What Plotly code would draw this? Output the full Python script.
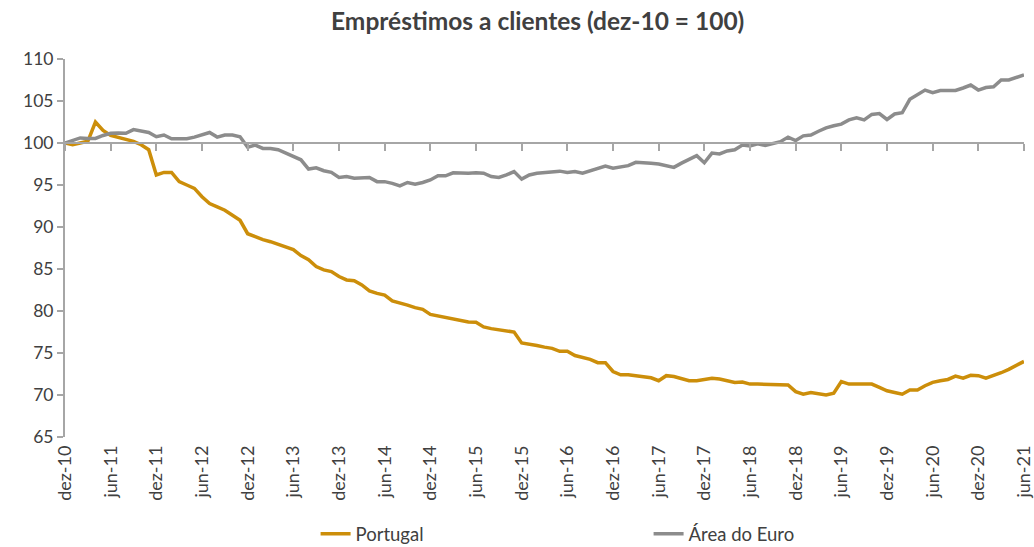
import plotly.graph_objects as go

month_abbr = ["jan", "fev", "mar", "abr", "mai", "jun", "jul", "ago", "set", "out", "nov", "dez"]
# monthly labels dez-10 .. jun-21
months = []
for k in range(127):
    mi = (11 + k) % 12
    yr = 10 + (11 + k) // 12
    months.append(f"{month_abbr[mi]}-{yr:02d}")

portugal = [
    100.0, 99.8, 100.0, 100.2, 102.5, 101.5, 100.9, 100.7, 100.4, 100.2,
    99.8, 99.2, 96.2, 96.5, 96.5, 95.4, 95.0, 94.6, 93.6, 92.8,
    92.4, 92.0, 91.4, 90.8, 89.2, 88.8, 88.5, 88.25, 87.9, 87.6,
    87.3, 86.6, 86.1, 85.3, 84.9, 84.7, 84.1, 83.7, 83.6, 83.1,
    82.4, 82.1, 81.9, 81.2, 81.0, 80.7, 80.4, 80.2, 79.6, 79.4,
    79.25, 79.1, 78.8, 78.7, 78.65, 78.1, 77.9, 77.8, 77.6, 77.5,
    76.2, 76.1, 75.9, 75.7, 75.55, 75.2, 75.2, 74.7, 74.5, 74.25,
    73.85, 73.85, 72.8, 72.4, 72.4, 72.3, 72.15, 72.05, 71.7, 72.3,
    72.2, 71.95, 71.7, 71.7, 71.8, 72.0, 71.9, 71.7, 71.5, 71.55,
    71.3, 71.3, 71.3, 71.25, 71.2, 71.2, 70.4, 70.1, 70.3, 70.15,
    70.0, 70.2, 71.6, 71.3, 71.3, 71.2, 71.3, 70.9, 70.5, 70.3,
    70.1, 70.6, 70.6, 71.1, 71.5, 71.7, 71.85, 72.25, 72.0, 72.35,
    72.3, 72.0, 72.3, 72.65, 73.05, 73.5, 74.0,
]

area_euro = [
    100.0, 100.3, 100.6, 100.55, 100.55, 100.9, 101.15, 101.2, 101.15, 101.6,
    101.4, 101.25, 100.75, 100.95, 100.5, 100.45, 100.5, 100.7, 101.0, 101.25,
    100.7, 100.95, 100.95, 100.75, 99.5, 99.75, 99.35, 99.35, 99.2, 98.8,
    98.5, 98.0, 96.9, 97.05, 96.7, 96.5, 95.9, 96.0, 95.8, 95.85,
    95.9, 95.4, 95.4, 95.2, 94.9, 95.3, 95.1, 95.3, 95.6, 96.1,
    96.1, 96.45, 96.4, 96.4, 96.45, 96.4, 96.0, 95.9, 96.2, 96.6,
    95.7, 96.2, 96.4, 96.5, 96.65, 96.65, 96.5, 96.6, 96.4, 96.7,
    97.0, 97.25, 97.0, 97.2, 97.3, 97.7, 97.7, 97.6, 97.5, 97.25,
    97.1, 97.6, 98.1, 98.5, 97.65, 98.8, 98.7, 99.05, 99.2, 99.75,
    99.65, 99.9, 99.7, 99.9, 100.15, 100.7, 100.3, 100.85, 100.95, 101.4,
    101.8, 102.05, 102.25, 102.75, 103.0, 102.75, 103.4, 103.5, 102.8, 103.45,
    103.6, 105.2, 105.8, 106.3, 106.0, 106.25, 106.25, 106.25, 106.55, 106.9,
    106.3, 106.6, 106.7, 107.5, 107.5, 107.8, 108.1,
]

tick_idx = list(range(0, 127, 6))
tick_labels = [months[i] for i in tick_idx]

x = list(range(len(months)))

FONT = "Lato"
TXT = "#404040"
AX = "#A6A6A6"

fig = go.Figure()
fig.add_trace(go.Scatter(x=x, y=portugal, mode="lines", name="Portugal",
                         line=dict(color="#CC8E0A", width=3.5),
                         customdata=months, hovertemplate="%{customdata}: %{y}<extra>Portugal</extra>"))
fig.add_trace(go.Scatter(x=x, y=area_euro, mode="lines", name="Área do Euro",
                         line=dict(color="#8C8C8C", width=3.5),
                         customdata=months, hovertemplate="%{customdata}: %{y}<extra>Área do Euro</extra>"))
# invisible trace to hold the bottom label axis
fig.add_trace(go.Scatter(x=[0, 126], y=[None, None], xaxis="x2", yaxis="y",
                         showlegend=False, hoverinfo="skip", mode="lines"))

y_min, y_max, y_cross = 65, 110, 100

fig.update_layout(
    width=1034, height=547,
    paper_bgcolor="white", plot_bgcolor="white",
    margin=dict(l=65, r=10, t=59, b=110, autoexpand=False),
    font=dict(family=FONT, color=TXT, size=17),
    title=dict(text="<b>Empréstimos a clientes (dez-10 = 100)</b>",
               x=0.52, xanchor="center", y=0.96, yanchor="middle",
               font=dict(family=FONT, size=24.5, color=TXT)),
    xaxis=dict(range=[0, 126], tickvals=tick_idx, ticktext=tick_labels,
               showticklabels=False, showgrid=False, zeroline=False,
               showline=True, linecolor=AX, linewidth=2,
               ticks="outside", ticklen=7, tickwidth=2, tickcolor=AX,
               anchor="free", position=(y_cross - y_min) / (y_max - y_min),
               automargin=False),
    xaxis2=dict(range=[0, 126], tickvals=tick_idx, ticktext=tick_labels,
                overlaying="x", anchor="y", side="bottom",
                showgrid=False, zeroline=False, showline=False, ticks="",
                ticklabelstandoff=4, automargin=False,
                tickangle=-90, tickfont=dict(family=FONT, size=18, color=TXT)),
    yaxis=dict(range=[y_min, y_max], dtick=5, showgrid=False, zeroline=False,
               showline=True, linecolor=AX, linewidth=2, automargin=False,
               ticks="outside", ticklen=6, tickwidth=1.5, tickcolor=AX,
               tickfont=dict(family=FONT, size=17.5, color=TXT)),
    legend=dict(orientation="h", x=0.2613, xanchor="left", y=-0.257, yanchor="middle",
                entrywidth=288, entrywidthmode="pixels",
                font=dict(family=FONT, size=18.5, color=TXT)),
    showlegend=True,
)

fig.write_html("out.html", config={"displayModeBar": False},
               post_script="document.body.style.margin='0px';document.body.style.overflow='hidden';")
